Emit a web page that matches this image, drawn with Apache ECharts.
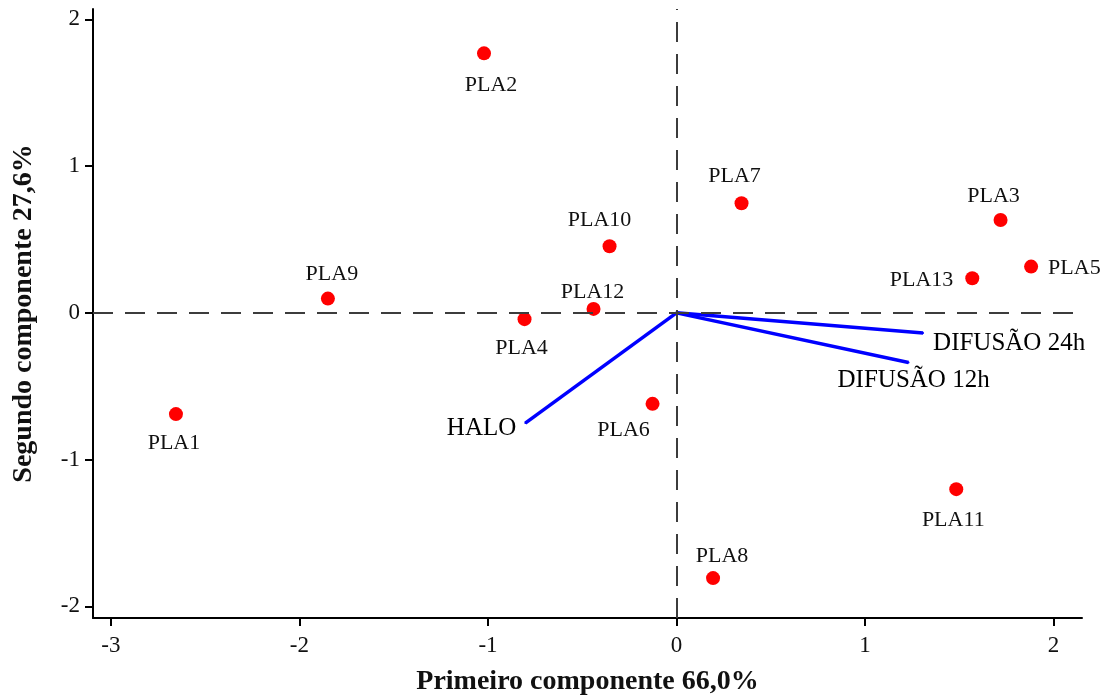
<!DOCTYPE html>
<html><head><meta charset="utf-8">
<script src="https://cdn.jsdelivr.net/npm/echarts@6/dist/echarts.min.js"></script>
<style>html,body{margin:0;padding:0;background:#fff}#c{width:1102px;height:697px}</style>
</head><body><div id="c"></div>
<script>
// ---- data ----
const pointNames = ['PLA1','PLA2','PLA3','PLA4','PLA5','PLA6','PLA7','PLA8','PLA9','PLA10','PLA11','PLA12','PLA13'];
const pc1 = [-2.655,-1.021,1.719,-0.806,1.881,-0.127,0.345,0.194,-1.849,-0.355,1.484,-0.440,1.569];
const pc2 = [-0.690,1.768,0.633,-0.043,0.315,-0.620,0.747,-1.807,0.097,0.454,-1.201,0.027,0.236];
const vectorNames = ['HALO','DIFUSÃO 24h','DIFUSÃO 12h'];
const vecX = [-0.802,1.308,1.231];
const vecY = [-0.751,-0.138,-0.338];
const xTicks = [-3,-2,-1,0,1,2];
const yTicks = [-2,-1,0,1,2];
const xTitle = 'Primeiro componente 66,0%';
const yTitle = 'Segundo componente 27,6%';

// ---- label placement (style) ----
const ptLabelStyle = {
  PLA1:{align:'center',offset:[-2,29]}, PLA2:{align:'center',offset:[7,32]},
  PLA3:{align:'center',offset:[-7,-24]}, PLA4:{align:'center',offset:[-3,29]},
  PLA5:{align:'left',offset:[17,2]}, PLA6:{align:'center',offset:[-29,26]},
  PLA7:{align:'center',offset:[-7,-27]}, PLA8:{align:'center',offset:[9,-22]},
  PLA9:{align:'center',offset:[4,-24]}, PLA10:{align:'center',offset:[-10,-26]},
  PLA11:{align:'center',offset:[-3,31]}, PLA12:{align:'center',offset:[-1,-17]},
  PLA13:{align:'right',offset:[-19,2]}
};
const vecLabelStyle = {
  'HALO':{align:'right',offset:[-9,5]},
  'DIFUSÃO 24h':{align:'left',offset:[10,10]},
  'DIFUSÃO 12h':{align:'left',offset:[-71,18]}
};

const FONT = '"Liberation Serif","DejaVu Serif",serif';
const TXT = '#111111';
const chart = echarts.init(document.getElementById('c'), null, {renderer:'canvas'});

const scatterData = pointNames.map((n,i)=>({
  name:n, value:[pc1[i],pc2[i]],
  label:{show:true, position:'inside', formatter:n, align:ptLabelStyle[n].align,
         verticalAlign:'middle', offset:ptLabelStyle[n].offset,
         fontFamily:FONT, fontSize:22, color:TXT, textBorderWidth:0}
}));

const vecSeries = vectorNames.map((n,i)=>({
  type:'line', name:n, silent:true, symbol:'none', showSymbol:false,
  lineStyle:{color:'#0000ff', width:3.5}, z:3,
  data:[[0,0],[vecX[i],vecY[i]]]
}));

const vecLabelSeries = {
  type:'scatter', silent:true, symbol:'circle', symbolSize:2, z:2,
  itemStyle:{color:'#0000ff', opacity:1},
  data:vectorNames.map((n,i)=>({
    name:n, value:[vecX[i],vecY[i]],
    label:{show:true, position:'inside', formatter:n, fontFamily:FONT, fontSize:25,
           color:'#000', opacity:1, textBorderWidth:0, align:vecLabelStyle[n].align, verticalAlign:'middle',
           offset:vecLabelStyle[n].offset}
  }))
};

const axisCommon = {
  type:'value',
  axisLine:{show:true, onZero:false, lineStyle:{color:'#000', width:2}},
  axisTick:{show:true, inside:false, length:8, lineStyle:{color:'#000', width:2}},
  splitLine:{show:false},
  nameLocation:'middle',
  nameTextStyle:{fontFamily:FONT, fontWeight:'bold', fontSize:28, color:TXT}
};

chart.setOption({
  animation:false,
  backgroundColor:'#fff',
  grid:{left:93, right:20, top:9, bottom:79, containLabel:false, outerBoundsMode:'none'},
  xAxis:Object.assign({}, axisCommon, {
    min:-3.095, max:2.151, name:xTitle, nameGap:50,
    axisTick:Object.assign({}, axisCommon.axisTick, {customValues:xTicks}),
    axisLabel:{customValues:xTicks, margin:16, fontFamily:FONT, fontSize:23, color:TXT,
               formatter:v=>String(v)}
  }),
  yAxis:Object.assign({}, axisCommon, {
    min:-2.079, max:2.07, name:yTitle, nameGap:55,
    axisTick:Object.assign({}, axisCommon.axisTick, {customValues:yTicks}),
    axisLabel:{customValues:yTicks, margin:13, fontFamily:FONT, fontSize:23, color:TXT,
               formatter:v=>String(v)}
  }),
  series:[
    {
      type:'scatter', data:scatterData, symbol:'circle', symbolSize:14, z:4,
      itemStyle:{color:'#ff0000', opacity:1},
      markLine:{
        silent:true, symbol:'none', animation:false,
        label:{show:false},
        lineStyle:{color:'#3c3c3c', width:2, type:[20,12]},
        data:[{xAxis:0},{yAxis:0}]
      }
    }
  ].concat(vecSeries, [vecLabelSeries])
});
</script></body></html>
